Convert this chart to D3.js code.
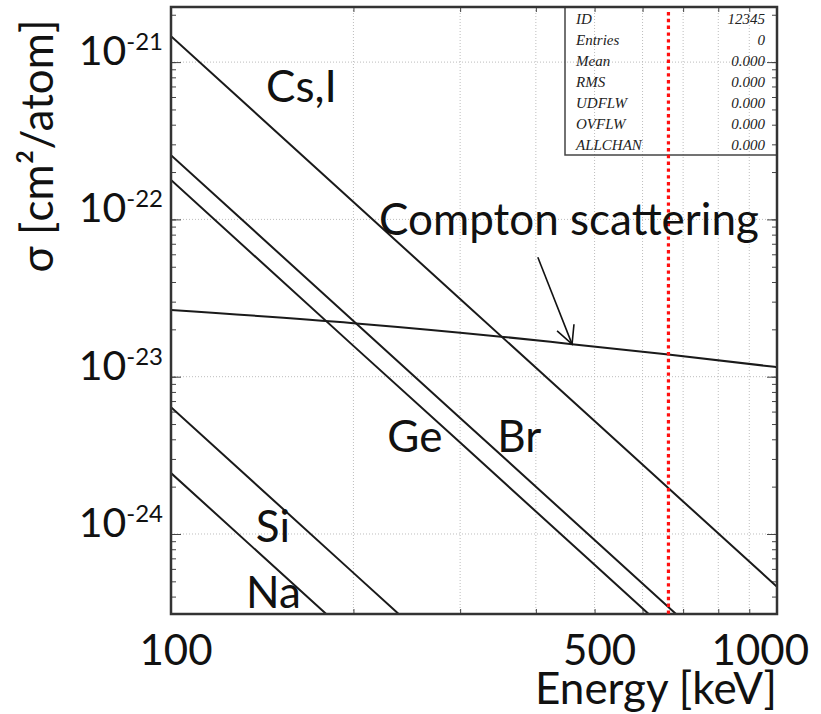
<!DOCTYPE html>
<html>
<head>
<meta charset="utf-8">
<title>Photoabsorption cross sections</title>
<script src="https://d3js.org/d3.v7.min.js"></script>
<style>
  body { margin: 0; background: #fff; }
  text { font-family: Lato, "Open Sans", sans-serif; fill: #111; }
</style>
</head>
<body>
<div id="chart"></div>
<script>
const energies = [100, 200, 300, 500, 700, 1000];
const csI = [1.46e-21, 1.29e-22, 3.12e-23, 5.22e-24, 1.61e-24, 4.62e-25];
const br  = [2.56e-22, 2.26e-23, 5.47e-24, 9.16e-25, 2.82e-25, 8.1e-26];
const ge  = [1.78e-22, 1.57e-23, 3.81e-24, 6.37e-25, 1.96e-25, 5.63e-26];
const si  = [6.4e-24, 5.66e-25, 1.37e-25];
const na  = [2.44e-24, 2.16e-25, 5.22e-26];

// Compton scattering (per atom)
const comptonEnergies = [100, 200, 354, 459, 656, 1000];
const compton = [2.65e-23, 2.19e-23, 1.79e-23, 1.61e-23, 1.39e-23, 1.15e-23];

// 662 keV marker
const markerEnergy = 662;

const xTickLabels = [100, 500, 1000];
const yTickExponents = [-21, -22, -23, -24];

// curve labels, anchored in data units (energy, sigma at baseline)
const labelTexts    = ['Cs,I', 'Compton scattering', 'Ge', 'Br', 'Si', 'Na'];
const labelEnergies = [143.5, 220.5, 227.5, 345.5, 138.0, 133.0];
const labelSigmas   = [5.57e-22, 7.95e-23, 3.32e-24, 3.32e-24, 8.88e-25, 3.38e-25];

// arrow from the Compton label down to the curve
const arrowEnergies = [403, 459];
const arrowSigmas = [5.75e-23, 1.61e-23];

// stats box
const statNames  = ['ID', 'Entries', 'Mean', 'RMS', 'UDFLW', 'OVFLW', 'ALLCHAN'];
const statValues = ['12345', '0', '0.000', '0.000', '0.000', '0.000', '0.000'];

const W = 821, H = 714;
const svg = d3.select('#chart').append('svg')
  .attr('width', W).attr('height', H);

const x = d3.scaleLog().domain([100, 1000]).range([171, 777]);
const y = d3.scaleLog().domain([2.24e-21, 3.10e-25]).range([7, 614]);
const [x0, x1] = x.range();
const [y0, y1] = y.range();

svg.append('clipPath').attr('id', 'plot')
  .append('rect').attr('x', x0).attr('y', y0)
  .attr('width', x1 - x0).attr('height', y1 - y0);

// grid
const gridX = d3.range(200, 1000, 100);
const gridY = yTickExponents.map(e => Math.pow(10, e));
const grid = svg.append('g')
  .attr('stroke', '#bdbdbd').attr('stroke-width', 1).attr('stroke-dasharray', '1,2');
grid.selectAll('.gx').data(gridX).enter().append('line')
  .attr('x1', d => x(d)).attr('x2', d => x(d)).attr('y1', y0).attr('y2', y1);
grid.selectAll('.gy').data(gridY).enter().append('line')
  .attr('x1', x0).attr('x2', x1).attr('y1', d => y(d)).attr('y2', d => y(d));

// ticks on all four sides, pointing inwards
const minorY = [];
for (let e = -25; e <= -21; e++) {
  for (let k = 1; k < 10; k++) {
    const v = k * Math.pow(10, e);
    if (v <= y.domain()[0] && v >= y.domain()[1]) minorY.push(v);
  }
}
const majorY = minorY.filter(v => Math.abs(Math.log10(v) - Math.round(Math.log10(v))) < 1e-9);
const tickStyle = g => g.call(s => s.select('.domain').remove())
  .call(s => s.selectAll('line').attr('stroke', '#444').attr('stroke-width', 1));

svg.append('g').attr('transform', `translate(${x0},0)`)
  .call(d3.axisLeft(y).tickValues(minorY).tickSize(-5).tickFormat(''))
  .call(tickStyle);
svg.append('g').attr('transform', `translate(${x0},0)`)
  .call(d3.axisLeft(y).tickValues(majorY).tickSize(-10).tickFormat(''))
  .call(tickStyle);
svg.append('g').attr('transform', `translate(${x1},0)`)
  .call(d3.axisRight(y).tickValues(minorY).tickSize(-5).tickFormat(''))
  .call(tickStyle);
svg.append('g').attr('transform', `translate(${x1},0)`)
  .call(d3.axisRight(y).tickValues(majorY).tickSize(-10).tickFormat(''))
  .call(tickStyle);
svg.append('g').attr('transform', `translate(0,${y1})`)
  .call(d3.axisBottom(x).tickValues(gridX).tickSize(-5).tickFormat(''))
  .call(tickStyle);
svg.append('g').attr('transform', `translate(0,${y0})`)
  .call(d3.axisTop(x).tickValues(gridX).tickSize(-5).tickFormat(''))
  .call(tickStyle);

// curves
const line = d3.line().x(d => x(d[0])).y(d => y(d[1]));
const curves = svg.append('g').attr('clip-path', 'url(#plot)')
  .attr('fill', 'none').attr('stroke', '#1a1a1a').attr('stroke-width', 2);
[csI, br, ge, si, na].forEach(series => {
  curves.append('path').attr('d', line(series.map((v, i) => [energies[i], v])));
});
curves.append('path')
  .attr('d', line.curve(d3.curveMonotoneX)(compton.map((v, i) => [comptonEnergies[i], v])));

// stats box
const box = svg.append('g');
box.append('rect').attr('x', 565).attr('y', y0).attr('width', x1 - 565).attr('height', 148)
  .attr('fill', 'none').attr('stroke', '#444').attr('stroke-width', 1.5);
box.selectAll('.sn').data(statNames).enter().append('text')
  .attr('x', 576).attr('y', (d, i) => 24 + i * 21)
  .style('font-family', '"Liberation Serif", serif').style('font-style', 'italic')
  .style('font-size', '15px').style('fill', '#222')
  .text(d => d);
box.selectAll('.sv').data(statValues).enter().append('text')
  .attr('x', 765).attr('y', (d, i) => 24 + i * 21).attr('text-anchor', 'end')
  .style('font-family', '"Liberation Serif", serif').style('font-style', 'italic')
  .style('font-size', '15px').style('fill', '#222')
  .text(d => d);

// frame
svg.append('rect').attr('x', x0).attr('y', y0)
  .attr('width', x1 - x0).attr('height', y1 - y0)
  .attr('fill', 'none').attr('stroke', '#333').attr('stroke-width', 2.5);

// 662 keV marker
svg.append('line')
  .attr('x1', x(markerEnergy)).attr('x2', x(markerEnergy))
  .attr('y1', y0 + 5).attr('y2', y1)
  .attr('stroke', '#ff1010').attr('stroke-width', 3.2).attr('stroke-dasharray', '3.4,3.4');

// curve labels
svg.selectAll('.lab').data(labelTexts).enter().append('text')
  .attr('x', (d, i) => x(labelEnergies[i]))
  .attr('y', (d, i) => y(labelSigmas[i]))
  .style('font-size', '44px')
  .text(d => d);

// arrow
const ax0 = x(arrowEnergies[0]), ay0 = y(arrowSigmas[0]);
const ax1 = x(arrowEnergies[1]), ay1 = y(arrowSigmas[1]);
const ang = Math.atan2(ay0 - ay1, ax0 - ax1);
const barb = 20, spread = 27 * Math.PI / 180;
const arrow = svg.append('g').attr('stroke', '#111').attr('stroke-width', 1.6).attr('fill', 'none');
arrow.append('line').attr('x1', ax0).attr('y1', ay0).attr('x2', ax1).attr('y2', ay1);
arrow.append('path').attr('d', `M${ax1 + barb * Math.cos(ang - spread)},${ay1 + barb * Math.sin(ang - spread)}`
  + `L${ax1},${ay1}L${ax1 + barb * Math.cos(ang + spread)},${ay1 + barb * Math.sin(ang + spread)}`);

// y tick labels: 10^-n
const yl = svg.selectAll('.yl').data(yTickExponents).enter().append('text')
  .attr('x', 163).attr('y', d => y(Math.pow(10, d)) + 3)
  .attr('text-anchor', 'end').style('font-size', '41px');
yl.append('tspan').text('10');
yl.append('tspan').attr('dy', -15).style('font-size', '24px').text(d => d);

// x tick labels
svg.selectAll('.xl').data(xTickLabels).enter().append('text')
  .attr('x', d => d === 1000 ? x(d) + 32 : x(d) + 5)
  .attr('y', 665)
  .attr('text-anchor', d => d === 1000 ? 'end' : 'middle')
  .style('font-size', '42px')
  .text(d => d);

// axis titles
svg.append('text').attr('x', x1).attr('y', 704).attr('text-anchor', 'end')
  .style('font-size', '44px').text('Energy [keV]');
svg.append('text')
  .attr('transform', 'translate(53,146) rotate(-90)')
  .attr('text-anchor', 'middle').style('font-size', '44px')
  .text('σ [cm²/atom]');
</script>
</body>
</html>
